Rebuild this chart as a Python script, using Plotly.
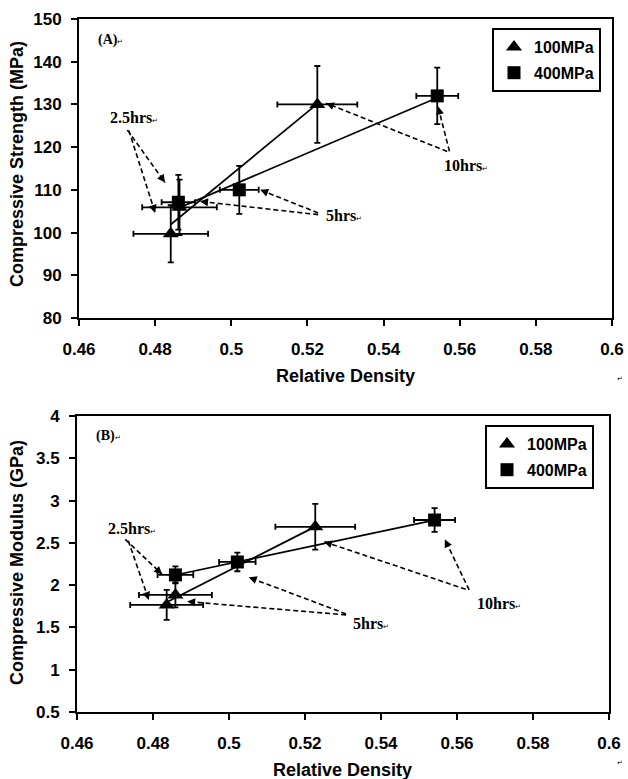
import numpy as np
import plotly.graph_objects as go

# ---------------- data ----------------
# Panel A : compressive strength (MPa) vs relative density
a100_x = [0.4841, 0.4864, 0.5226]
a100_y = [99.7, 105.9, 130.0]
a100_xerr = [0.0098, 0.0098, 0.0105]
a100_yerr = [6.7, 6.5, 9.0]
a400_x = [0.4861, 0.5021, 0.5541]
a400_y = [107.1, 110.0, 132.0]
a400_xerr = [0.0044, 0.0051, 0.0055]
a400_yerr = [6.4, 5.6, 6.6]

# Panel B : compressive modulus (GPa) vs relative density
b100_x = [0.4836, 0.4859, 0.5227]
b100_y = [1.766, 1.884, 2.69]
b100_xerr = [0.0096, 0.0096, 0.0105]
b100_yerr = [0.177, 0.147, 0.27]
b400_x = [0.4859, 0.5022, 0.5541]
b400_y = [2.121, 2.274, 2.77]
b400_xerr = [0.0047, 0.0048, 0.0054]
b400_yerr = [0.10, 0.11, 0.14]

series_names = ["100MPa", "400MPa"]
x_ticks = [0.46, 0.48, 0.50, 0.52, 0.54, 0.56, 0.58, 0.60]
x_ticktext = ["0.46", "0.48", "0.5", "0.52", "0.54", "0.56", "0.58", "0.6"]
ya_ticks = [80, 90, 100, 110, 120, 130, 140, 150]
yb_ticks = [0.5, 1, 1.5, 2, 2.5, 3, 3.5, 4]
yb_ticktext = ["0.5", "1", "1.5", "2", "2.5", "3", "3.5", "4"]

# time labels (text, x, y) and arrows (tail x, tail y, head x, head y)
a_labels = [("2.5hrs", 0.4677, 127.0), ("5hrs", 0.5244, 103.9), ("10hrs", 0.5554, 115.7)]
a_arrows = [
    (0.4727, 124.0, 0.4826, 111.7),
    (0.4731, 123.9, 0.4800, 104.6),
    (0.5228, 104.6, 0.5076, 110.0),
    (0.5228, 104.2, 0.4918, 107.3),
    (0.5573, 119.0, 0.5543, 129.5),
    (0.5567, 119.0, 0.5249, 130.3),
]
b_labels = [("2.5hrs", 0.4677, 2.671), ("5hrs", 0.5322, 1.55), ("10hrs", 0.5648, 1.786)]
b_arrows = [
    (0.4727, 2.541, 0.4824, 2.128),
    (0.4735, 2.525, 0.4789, 1.825),
    (0.5308, 1.660, 0.5052, 2.093),
    (0.5308, 1.648, 0.4890, 1.806),
    (0.5632, 1.943, 0.5568, 2.541),
    (0.5623, 1.951, 0.5250, 2.514),
]
a_tag = ("(A)", 0.4645, 145.1)
b_tag = ("(B)", 0.4645, 3.764)

W, H = 628, 779
XA = [79 / W, 612 / W]
YA = [1 - 318 / H, 1 - 19 / H]
XB = [77 / W, 609 / W]
YB = [1 - 712 / H, 1 - 416 / H]

SANS = "Liberation Sans, Arial, sans-serif"
SERIF = "Liberation Serif, Times New Roman, serif"

fig = go.Figure()


def add_panel(xs, ys, xe, ye, xr, yr, legend):
    symbols = ["triangle-up", "square"]
    sizes = [14, 13]
    # linear trendlines
    for x, y in zip(xs, ys):
        c = np.polyfit(x, y, 1)
        xx = np.array([min(x), max(x)])
        fig.add_trace(go.Scatter(x=xx, y=np.polyval(c, xx), mode="lines",
                                 line=dict(color="black", width=1.7),
                                 xaxis=xr, yaxis=yr, showlegend=False, hoverinfo="skip"))
    for i, (x, y, ex, ey) in enumerate(zip(xs, ys, xe, ye)):
        fig.add_trace(go.Scatter(
            x=x, y=y, mode="markers", name=series_names[i],
            marker=dict(symbol=symbols[i], size=sizes[i], color="black"),
            error_x=dict(type="data", array=ex, color="black", thickness=1.8, width=3),
            error_y=dict(type="data", array=ey, color="black", thickness=1.8, width=3),
            xaxis=xr, yaxis=yr, legend=legend, legendgroup=series_names[i] + legend))


add_panel([a100_x, a400_x], [a100_y, a400_y], [a100_xerr, a400_xerr],
          [a100_yerr, a400_yerr], "x", "y", "legend")
add_panel([b100_x, b400_x], [b100_y, b400_y], [b100_xerr, b400_xerr],
          [b100_yerr, b400_yerr], "x2", "y2", "legend2")

axis_common = dict(showline=True, linecolor="black", linewidth=2, mirror=True,
                   ticks="outside", ticklen=6, tickwidth=1.5, tickcolor="black",
                   showgrid=False, zeroline=False, automargin=False,
                   tickfont=dict(family=SANS, size=17, color="black", weight="bold"))

legend_common = dict(xanchor="left", yanchor="top", bordercolor="black", borderwidth=2,
                     bgcolor="white",
                     font=dict(family=SANS, size=16, color="black", weight="bold"),
                     tracegroupgap=2, traceorder="grouped", itemwidth=30)

fig.update_layout(
    template="none",
    width=W, height=H, margin=dict(l=0, r=0, t=0, b=0, pad=0, autoexpand=False),
    paper_bgcolor="white", plot_bgcolor="white",
    xaxis=dict(domain=XA, anchor="y", range=[0.46, 0.6], tickvals=x_ticks,
               ticktext=x_ticktext, ticklabelstandoff=9, **axis_common),
    yaxis=dict(domain=YA, anchor="x", range=[80, 150], tickvals=ya_ticks,
               ticklabelstandoff=6, **axis_common),
    xaxis2=dict(domain=XB, anchor="y2", range=[0.46, 0.6], tickvals=x_ticks,
                ticktext=x_ticktext, ticklabelstandoff=9, **axis_common),
    yaxis2=dict(domain=YB, anchor="x2", range=[0.5, 4], tickvals=yb_ticks,
                ticktext=yb_ticktext, ticklabelstandoff=6, **axis_common),
    legend=dict(x=492 / W, y=1 - 28 / H, **legend_common),
    legend2=dict(x=485 / W, y=1 - 425 / H, **legend_common),
    showlegend=True,
)

annotations = []
shapes = []
mark = "<span style='font-size:7px'>\u21b5</span>"


def add_text(labels, tag, arrows, xr, yr, pxx, pxy):
    for t, x, y in labels:
        annotations.append(dict(text="<b>" + t + "</b>" + mark, x=x, y=y, xref=xr, yref=yr,
                                xanchor="left", yanchor="middle", showarrow=False,
                                font=dict(family=SERIF, size=16, color="black")))
    t, x, y = tag
    annotations.append(dict(text="<b>" + t + "</b>" + mark, x=x, y=y, xref=xr, yref=yr,
                            xanchor="left", yanchor="middle", showarrow=False,
                            font=dict(family=SERIF, size=14, color="black")))
    for tx, ty, hx, hy in arrows:
        shapes.append(dict(type="line", x0=tx, y0=ty, x1=hx, y1=hy, xref=xr, yref=yr,
                           line=dict(color="black", width=1.6, dash="5px,3px")))
        dx, dy = (tx - hx) * pxx, (ty - hy) * pxy
        n = (dx * dx + dy * dy) ** 0.5
        bx = hx + (dx / n) * 8 / pxx
        by = hy + (dy / n) * 8 / pxy
        annotations.append(dict(text="", x=hx, y=hy, ax=bx, ay=by, xref=xr, yref=yr,
                                axref=xr, ayref=yr, showarrow=True, arrowhead=2,
                                arrowsize=1, arrowwidth=1.6, arrowcolor="black"))


add_text(a_labels, a_tag, a_arrows, "x", "y", 533 / 0.14, 299 / 70)
add_text(b_labels, b_tag, b_arrows, "x2", "y2", 532 / 0.14, 296 / 3.5)

# axis titles
title_font = dict(family=SANS, size=18, color="black", weight="bold")
annotations += [
    dict(text="Relative Density", x=(XA[0] + XA[1]) / 2, y=1 - 376 / H, xref="paper", yref="paper",
         showarrow=False, font=title_font, xanchor="center", yanchor="middle"),
    dict(text="Relative Density", x=(XB[0] + XB[1]) / 2, y=1 - 770 / H, xref="paper", yref="paper",
         showarrow=False, font=title_font, xanchor="center", yanchor="middle"),
    dict(text="Compressive Strength (MPa)", x=17 / W, y=1 - 164 / H, xref="paper", yref="paper",
         showarrow=False, font=title_font, textangle=-90, xanchor="center", yanchor="middle"),
    dict(text="Compressive Modulus (GPa)", x=17 / W, y=1 - 563 / H, xref="paper", yref="paper",
         showarrow=False, font=title_font, textangle=-90, xanchor="center", yanchor="middle"),
    dict(text="\u21b5", x=625 / W, y=1 - 378 / H, xref="paper", yref="paper", showarrow=False,
         font=dict(size=7, color="black")),
    dict(text="\u21b5", x=625 / W, y=1 - 769 / H, xref="paper", yref="paper", showarrow=False,
         font=dict(size=7, color="black")),
]

fig.update_layout(annotations=annotations, shapes=shapes)
fig.write_html("out.html")
